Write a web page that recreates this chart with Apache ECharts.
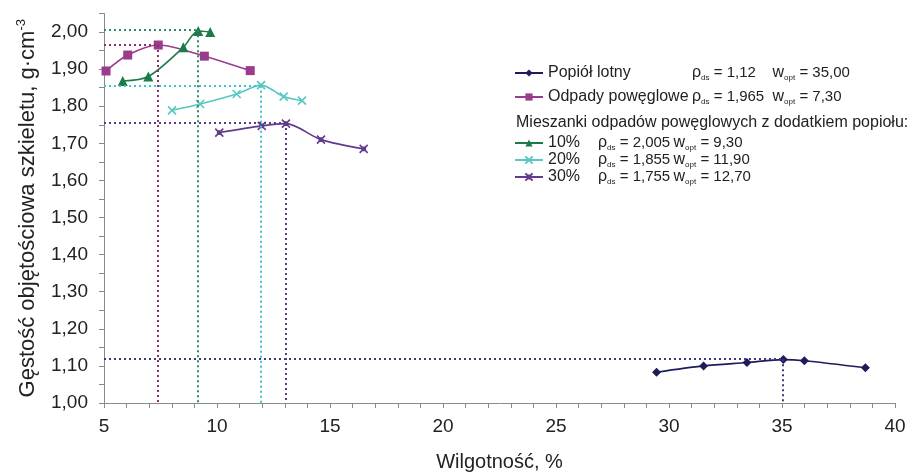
<!DOCTYPE html>
<html>
<head>
<meta charset="utf-8">
<script src="https://cdn.jsdelivr.net/npm/echarts@6/dist/echarts.min.js"></script>
<style>
  html, body { margin: 0; padding: 0; background: #fff; }
  #chart { width: 914px; height: 474px; }
</style>
</head>
<body>
<div id="chart"></div>
<script>
// dane: wilgotność w [%], gęstość rho [g/cm3]
const popiolW = [29.45, 31.53, 33.45, 35.06, 35.99, 38.69];
const popiolRho = [1.083, 1.100, 1.109, 1.117, 1.114, 1.095];
const odpadyW = [5.09, 6.05, 7.40, 9.44, 11.47];
const odpadyRho = [1.895, 1.938, 1.965, 1.935, 1.896];
const mix10W = [5.83, 6.96, 8.51, 9.17, 9.70];
const mix10Rho = [1.868, 1.880, 1.959, 2.003, 2.000];
const mix20W = [8.01, 9.25, 10.87, 11.95, 12.95, 13.76];
const mix20Rho = [1.789, 1.806, 1.833, 1.857, 1.826, 1.815];
const mix30W = [10.10, 11.98, 13.05, 14.60, 16.49];
const mix30Rho = [1.729, 1.747, 1.753, 1.710, 1.685];

// punkty optymalne (linie kropkowane)
const optW = [35.05, 7.40, 9.15, 11.95, 13.05];
const optRho = [1.118, 1.965, 2.005, 1.855, 1.755];

const seriesNames = ['Popiół lotny', 'Odpady powęglowe', '10%', '20%', '30%'];
const rhoLabels = ['1,12', '1,965', '2,005', '1,855', '1,755'];
const wLabels = ['35,00', '7,30', '9,30', '11,90', '12,70'];

const lineColors = ['#1f1c5c', '#9a3b8e', '#1b7a48', '#58c6c2', '#633a8c'];
const dotColors = ['#3b3780', '#8c2f6a', '#2b8d5c', '#3cc2cc', '#5b3a84'];
const symbols = [
  'diamond', 'rect', 'triangle',
  'path://M0,0L10,10M10,0L0,10',
  'path://M0,0L10,10M10,0L0,10M3,3L7,3L7,7L3,7Z'
];
const symbolSizes = [9, 9, 10, 8, 8];

const allW = [popiolW, odpadyW, mix10W, mix20W, mix30W];
const allRho = [popiolRho, odpadyRho, mix10Rho, mix20Rho, mix30Rho];

const fmt = v => v.toFixed(2).replace('.', ',');

const chart = echarts.init(document.getElementById('chart'));

const series = seriesNames.map((name, i) => ({
  name: name,
  type: 'line',
  smooth: 0.3,
  data: allW[i].map((w, k) => [w, allRho[i][k]]),
  symbol: symbols[i],
  symbolSize: symbolSizes[i],
  lineStyle: { color: lineColors[i], width: 1.6 },
  itemStyle: { color: lineColors[i], borderColor: lineColors[i], borderWidth: i >= 3 ? 1.6 : 0 },
  z: 3,
  markLine: {
    silent: true,
    symbol: 'none',
    animation: false,
    label: { show: false },
    lineStyle: { color: dotColors[i], type: [2, 3], width: 2 },
    data: [
      [{ coord: [5, optRho[i]] }, { coord: [optW[i], optRho[i]] }],
      [{ coord: [optW[i], optRho[i]] }, { coord: [optW[i], 1] }]
    ]
  }
}));

// teksty legendy z indeksami dolnymi
const FONT = 'Liberation Sans';
const legendRich = {
  n: { fontSize: 15, color: '#222', fontFamily: FONT, lineHeight: 18 },
  n2: { fontSize: 16, color: '#222', fontFamily: FONT, width: 144, lineHeight: 18 },
  p: { fontSize: 16, color: '#222', fontFamily: FONT, width: 50, lineHeight: 18 },
  r: { fontSize: 16, color: '#222', fontFamily: FONT, lineHeight: 18 },
  s: { fontSize: 8, color: '#222', fontFamily: FONT, verticalAlign: 'bottom', lineHeight: 11 },
  v: { fontSize: 15, color: '#222', fontFamily: FONT, width: 63, lineHeight: 18 },
  v2: { fontSize: 15, color: '#222', fontFamily: FONT, width: 58, lineHeight: 18 }
};

function legendText(name) {
  const i = seriesNames.indexOf(name);
  if (i < 2) {
    return '{n2|' + name + '}{r|ρ}{s|ds}{v| = ' + rhoLabels[i] + '}{r|w}{s|opt}{n| = ' + wLabels[i] + '}';
  }
  return '{p|' + name + '}{r|ρ}{s|ds}{v2| = ' + rhoLabels[i] + '}{r|w}{s|opt}{n| = ' + wLabels[i] + '}';
}

const option = {
  backgroundColor: '#fff',
  animation: false,
  textStyle: { fontFamily: FONT },
  grid: { left: 104, right: 19, top: 13.5, bottom: 71, outerBoundsMode: 'none' },
  legend: [
    {
      data: seriesNames.slice(0, 2),
      orient: 'vertical',
      left: 509,
      top: 60,
      itemWidth: 28,
      itemHeight: 9,
      itemGap: 7,
      selectedMode: false,
      formatter: legendText,
      textStyle: { rich: legendRich }
    },
    {
      data: seriesNames.slice(2),
      orient: 'vertical',
      left: 509,
      top: 130,
      itemWidth: 28,
      itemHeight: 9,
      itemGap: 0,
      selectedMode: false,
      formatter: legendText,
      textStyle: { rich: legendRich }
    }
  ],
  graphic: [
    {
      type: 'text',
      left: 516,
      top: 115,
      style: {
        text: 'Mieszanki odpadów powęglowych z dodatkiem popiołu:',
        fontSize: 16,
        fill: '#222',
        fontFamily: FONT
      }
    }
  ],
  xAxis: {
    type: 'value',
    min: 5,
    max: 40,
    interval: 1,
    name: 'Wilgotność, %',
    nameLocation: 'middle',
    nameGap: 49,
    nameTextStyle: { fontSize: 20, color: '#222' },
    axisLine: { onZero: false, lineStyle: { color: '#8a8a8a', width: 1 } },
    axisTick: { length: 5, lineStyle: { color: '#8a8a8a' } },
    axisLabel: {
      fontSize: 19,
      color: '#222',
      margin: 14,
      formatter: v => (v % 5 === 0 ? String(v) : '')
    },
    splitLine: { show: false }
  },
  yAxis: {
    type: 'value',
    min: 1,
    max: 2.05,
    interval: 0.05,
    name: '{a|Gęstość objętościowa szkieletu, g·cm}{b|-3}',
    nameLocation: 'middle',
    nameRotate: 90,
    nameGap: 64,
    nameTextStyle: {
      rich: {
        a: { fontSize: 22, color: '#222', lineHeight: 25 },
        b: { fontSize: 13, color: '#222', verticalAlign: 'top', lineHeight: 13 }
      }
    },
    axisLine: { show: true, lineStyle: { color: '#8a8a8a', width: 1 } },
    axisTick: { show: true, length: 5, lineStyle: { color: '#8a8a8a' } },
    axisLabel: {
      fontSize: 19,
      color: '#222',
      margin: 16,
      formatter: v => {
        const k = Math.round(v * 100);
        return (k % 10 === 0 && k <= 200) ? fmt(v) : '';
      }
    },
    splitLine: { show: false }
  },
  series: series
};

chart.setOption(option);
</script>
</body>
</html>
